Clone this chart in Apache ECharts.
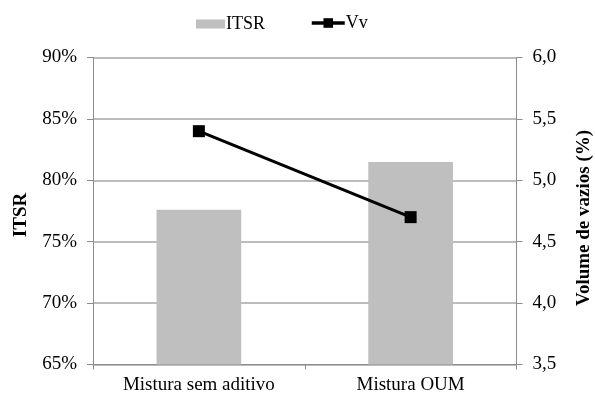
<!DOCTYPE html>
<html>
<head>
<meta charset="utf-8">
<script src="https://cdn.jsdelivr.net/npm/echarts@6/dist/echarts.min.js"></script>
<style>
  html, body { margin: 0; padding: 0; background: #fff; }
  #chart { width: 595px; height: 398px; }
</style>
</head>
<body>
<div id="chart"></div>
<script>
// Mixtures compared
const categories = ['Mistura sem aditivo', 'Mistura OUM'];
// Tensile strength ratio (%), bars on the left axis
const itsrValues = [77.6, 81.5];
// Air voids (%), line on the right axis
const vvValues = [5.4, 4.7];

const FONT = '"Liberation Serif", "Times New Roman", serif';
const FS = 19;
const GRID_COLOR = '#A6A6A6';
const AXIS_COLOR = '#8C8C8C';

const chart = echarts.init(document.getElementById('chart'), null, { renderer: 'canvas' });

chart.setOption({
  animation: false,
  textStyle: { fontFamily: FONT },
  legend: [
    {
      data: [{ name: 'ITSR', icon: 'rect' }],
      left: 196, top: 15, padding: 0,
      itemWidth: 29, itemHeight: 9, itemGap: 4,
      textStyle: { fontFamily: FONT, fontSize: 18, color: '#000', padding: [0, 0, 0, -4] }
    },
    {
      data: [{ name: 'Vv' }],
      left: 310, top: 14, padding: 0,
      itemWidth: 33, itemHeight: 12, itemGap: 4,
      lineStyle: { width: 3.5 },
      textStyle: { fontFamily: FONT, fontSize: 18, color: '#000', padding: [0, 0, 0, -4] }
    }
  ],
  grid: {
    left: 93, right: 78.5, top: 57.5, bottom: 33.5,
    containLabel: false,
    outerBoundsMode: 'none'
  },
  xAxis: {
    type: 'category',
    data: categories,
    boundaryGap: true,
    axisLine: { show: true, lineStyle: { color: AXIS_COLOR, width: 1 } },
    axisTick: { show: true, length: 5, lineStyle: { color: AXIS_COLOR } },
    axisLabel: { color: '#000', fontSize: FS, fontFamily: FONT, margin: 11 },
    splitLine: { show: false }
  },
  yAxis: [
    {
      type: 'value',
      min: 65, max: 90, interval: 5,
      name: 'ITSR',
      nameLocation: 'middle',
      nameGap: 62,
      nameRotate: 90,
      nameTextStyle: { fontFamily: FONT, fontSize: FS, fontWeight: 'bold', color: '#000', padding: [0, 8, 0, 0] },
      axisLine: { show: true, lineStyle: { color: AXIS_COLOR, width: 1 } },
      axisTick: { show: true, length: 6, lineStyle: { color: AXIS_COLOR } },
      axisLabel: { color: '#000', fontSize: FS, fontFamily: FONT, margin: 16, formatter: v => v + '%' },
      splitLine: { show: true, lineStyle: { color: GRID_COLOR, width: 1.5 } }
    },
    {
      type: 'value',
      min: 3.5, max: 6.0, interval: 0.5,
      position: 'right',
      name: 'Volume de vazios (%)',
      nameLocation: 'middle',
      nameGap: 58,
      nameRotate: 90,
      nameTextStyle: { fontFamily: FONT, fontSize: FS, fontWeight: 'bold', color: '#000', padding: [0, 14, 0, 0] },
      axisLine: { show: true, lineStyle: { color: AXIS_COLOR, width: 1 } },
      axisTick: { show: true, length: 6, lineStyle: { color: AXIS_COLOR } },
      axisLabel: { color: '#000', fontSize: FS, fontFamily: FONT, margin: 16, formatter: v => v.toFixed(1).replace('.', ',') },
      splitLine: { show: false }
    }
  ],
  series: [
    {
      name: 'ITSR',
      type: 'bar',
      yAxisIndex: 0,
      data: itsrValues,
      barWidth: '40%',
      itemStyle: { color: '#BFBFBF' }
    },
    {
      name: 'Vv',
      type: 'line',
      yAxisIndex: 1,
      data: vvValues,
      symbol: 'rect',
      symbolSize: 12,
      itemStyle: { color: '#000' },
      lineStyle: { color: '#000', width: 3 },
      z: 5
    }
  ]
});
</script>
</body>
</html>
